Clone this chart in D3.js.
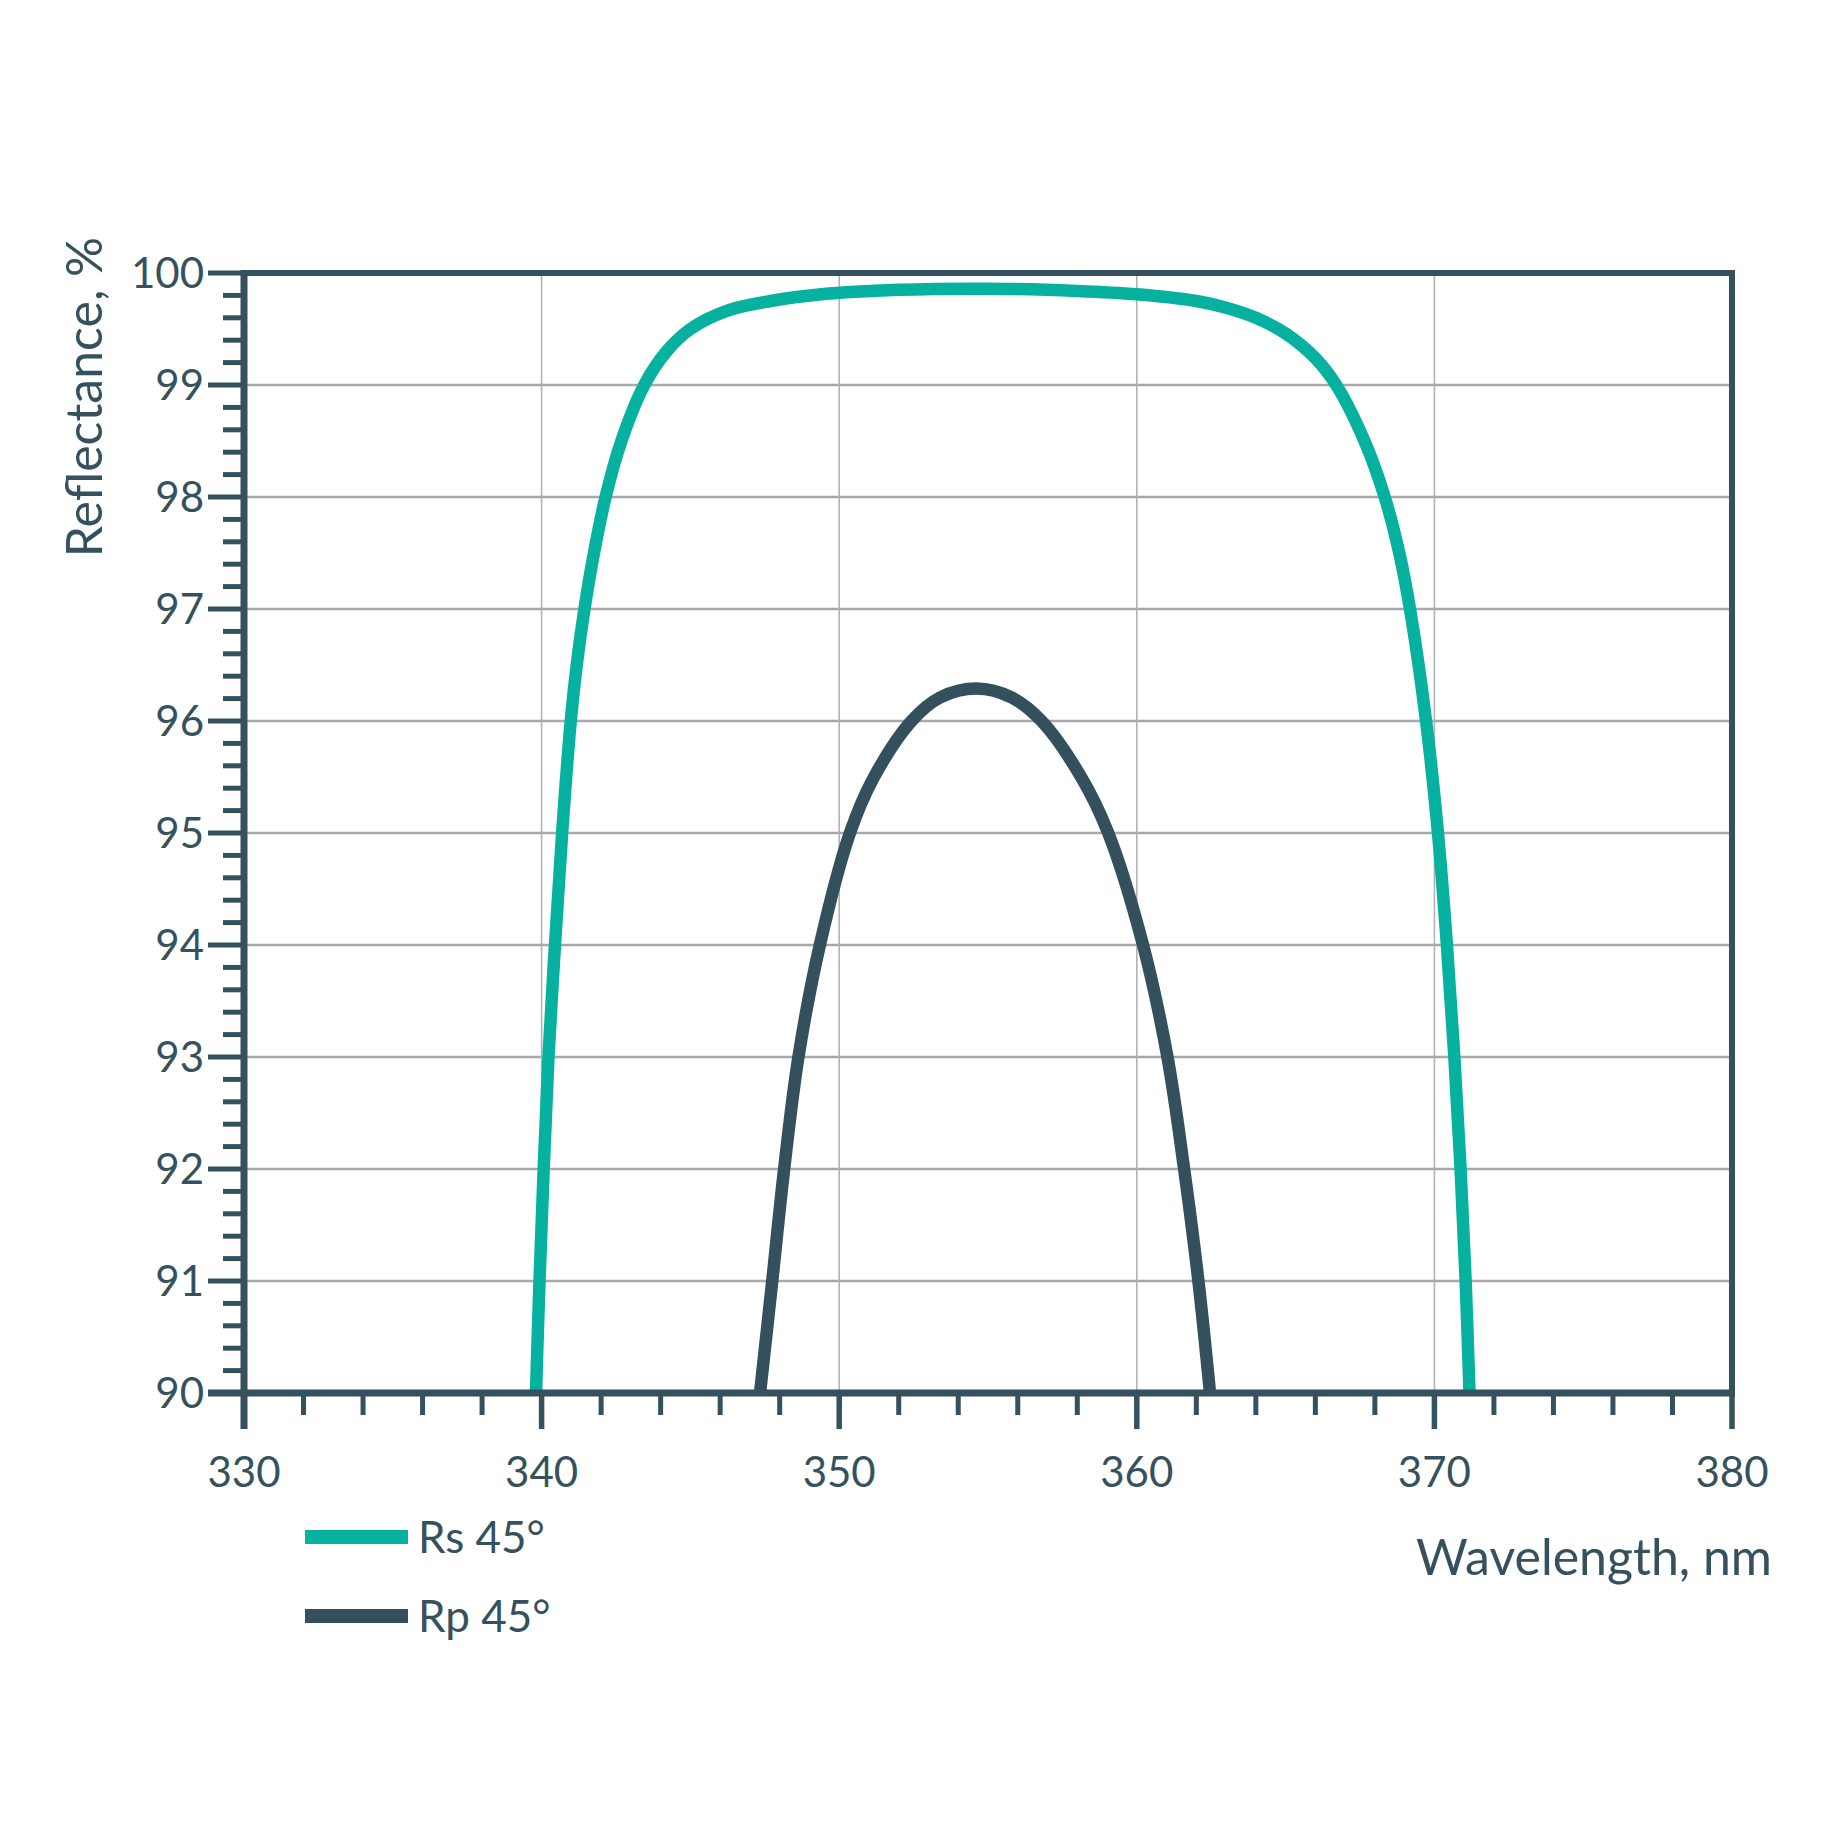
<!DOCTYPE html>
<html>
<head>
<meta charset="utf-8">
<script src="https://cdn.jsdelivr.net/npm/d3@7"></script>
<style>
  html, body { margin: 0; padding: 0; background: #ffffff; }
  svg { display: block; }
  text { font-family: Lato, "Open Sans", sans-serif; fill: #35515d; }
</style>
</head>
<body>
<svg id="chart" width="1848" height="1848"></svg>
<script>
// ---- data ----
const rsWavelength = [339.81, 339.93, 340.07, 340.23, 340.45, 340.69, 340.98, 341.18, 341.44, 341.76, 342.15, 342.68, 343.45, 344.2, 345.0, 346.2, 347.7, 349.4, 352.0, 355.0, 358.0, 360.0, 362.0, 363.0, 364.0, 365.0, 366.0, 366.7, 367.65, 368.33, 368.82, 369.18, 369.72, 370.12, 370.42, 370.67, 370.88, 371.05, 371.18];
const rsValues     = [90, 91, 92, 93, 94, 95, 96, 96.5, 97, 97.5, 98, 98.5, 99, 99.3, 99.5, 99.66, 99.75, 99.81, 99.85, 99.86, 99.84, 99.81, 99.75, 99.69, 99.6, 99.46, 99.24, 99, 98.5, 98, 97.5, 97, 96, 95, 94, 93, 92, 91, 90];
const rpWavelength = [347.34, 347.75, 348.15, 348.63, 349.35, 350.36, 351.15, 352.43, 353.39, 354.62, 355.79, 356.80, 358.15, 359.04, 360.21, 361.03, 361.59, 362.07, 362.46];
const rpValues     = [90, 91, 92, 93, 94, 95, 95.49, 96, 96.21, 96.29, 96.21, 96, 95.49, 95, 94, 93, 92, 91, 90];
const xMajorTicks = [330, 340, 350, 360, 370, 380];
const xMinorTicks = [332, 334, 336, 338, 342, 344, 346, 348, 352, 354, 356, 358, 362, 364, 366, 368, 372, 374, 376, 378];
const yMajorTicks = [90, 91, 92, 93, 94, 95, 96, 97, 98, 99, 100];
const seriesNames = ["Rs 45°", "Rp 45°"];
const xTitle = "Wavelength, nm";
const yTitle = "Reflectance, %";

// ---- layout ----
const DARK = "#35515d";
const TEAL = "#06b1a0";
const RP = "#33505c";
const svg = d3.select("#chart");
const x = d3.scaleLinear().domain([330, 380]).range([244, 1732]);
const y = d3.scaleLinear().domain([90, 100]).range([1393, 273]);
const yMinorTicks = d3.range(90, 100.001, 0.2).map(v => +v.toFixed(1)).filter(v => Math.abs(v - Math.round(v)) > 0.01);

// grid
svg.append("g").selectAll("line").data(yMajorTicks.filter(v => v > 90 && v < 100)).join("line")
  .attr("x1", x(330)).attr("x2", x(380))
  .attr("y1", d => y(d)).attr("y2", d => y(d))
  .attr("stroke", "#a9a9ad").attr("stroke-width", 2.5);
svg.append("g").selectAll("line").data(xMajorTicks.filter(v => v > 330 && v < 380)).join("line")
  .attr("x1", d => x(d)).attr("x2", d => x(d))
  .attr("y1", y(100)).attr("y2", y(90))
  .attr("stroke", "#b3b3b6").attr("stroke-width", 1.6);

// curves
const line = d3.line().x(d => x(d[0])).y(d => y(d[1])).curve(d3.curveCatmullRom.alpha(0.5));
const rsData = rsWavelength.map((w, i) => [w, rsValues[i]]);
const rpData = rpWavelength.map((w, i) => [w, rpValues[i]]);
svg.append("path").datum(rsData).attr("d", line)
  .attr("fill", "none").attr("stroke", TEAL).attr("stroke-width", 12.5);
svg.append("path").datum(rpData).attr("d", line)
  .attr("fill", "none").attr("stroke", RP).attr("stroke-width", 12.5);

// frame
svg.append("line").attr("x1", x(330) - 3).attr("x2", x(380) + 3).attr("y1", y(100)).attr("y2", y(100))
  .attr("stroke", DARK).attr("stroke-width", 6);
svg.append("line").attr("x1", x(380)).attr("x2", x(380)).attr("y1", y(100)).attr("y2", y(90))
  .attr("stroke", DARK).attr("stroke-width", 6);

// y axis ticks
svg.append("g").selectAll("line").data(yMinorTicks).join("line")
  .attr("x1", x(330) - 21).attr("x2", x(330))
  .attr("y1", d => y(d)).attr("y2", d => y(d))
  .attr("stroke", DARK).attr("stroke-width", 5);
svg.append("g").selectAll("line").data(yMajorTicks).join("line")
  .attr("x1", x(330) - 36).attr("x2", x(330))
  .attr("y1", d => y(d)).attr("y2", d => y(d))
  .attr("stroke", DARK).attr("stroke-width", 5);
svg.append("g").selectAll("text").data(yMajorTicks).join("text")
  .attr("x", x(330) - 40).attr("y", d => y(d) + 15)
  .attr("text-anchor", "end").attr("font-size", 42)
  .text(d => d);

// x axis ticks
svg.append("g").selectAll("line").data(xMinorTicks).join("line")
  .attr("x1", d => x(d)).attr("x2", d => x(d))
  .attr("y1", y(90)).attr("y2", y(90) + 22)
  .attr("stroke", DARK).attr("stroke-width", 5);
svg.append("g").selectAll("line").data(xMajorTicks).join("line")
  .attr("x1", d => x(d)).attr("x2", d => x(d))
  .attr("y1", y(90)).attr("y2", y(90) + 36)
  .attr("stroke", DARK).attr("stroke-width", 5.5);
svg.append("g").selectAll("text").data(xMajorTicks).join("text")
  .attr("x", d => x(d)).attr("y", y(90) + 94)
  .attr("text-anchor", "middle").attr("font-size", 42)
  .text(d => d);

// axis lines
svg.append("line").attr("x1", x(330)).attr("x2", x(330)).attr("y1", y(100) - 3).attr("y2", y(90) + 36)
  .attr("stroke", DARK).attr("stroke-width", 7);
svg.append("line").attr("x1", x(330) - 36).attr("x2", x(380) + 3).attr("y1", y(90)).attr("y2", y(90))
  .attr("stroke", DARK).attr("stroke-width", 7);

// titles
svg.append("text").attr("x", 1772).attr("y", 1575).attr("text-anchor", "end")
  .attr("font-size", 50).text(xTitle);
svg.append("text").attr("transform", "translate(102,397) rotate(-90)")
  .attr("text-anchor", "middle").attr("font-size", 50).text(yTitle);

// legend
const legendColors = [TEAL, RP];
const legendY = [1537, 1616];
const lg = svg.append("g");
lg.selectAll("line").data(seriesNames).join("line")
  .attr("x1", 305).attr("x2", 408)
  .attr("y1", (d, i) => legendY[i]).attr("y2", (d, i) => legendY[i])
  .attr("stroke", (d, i) => legendColors[i]).attr("stroke-width", 14);
lg.selectAll("text").data(seriesNames).join("text")
  .attr("x", 418).attr("y", (d, i) => legendY[i] + 16)
  .attr("font-size", 44)
  .text(d => d);
</script>
</body>
</html>
